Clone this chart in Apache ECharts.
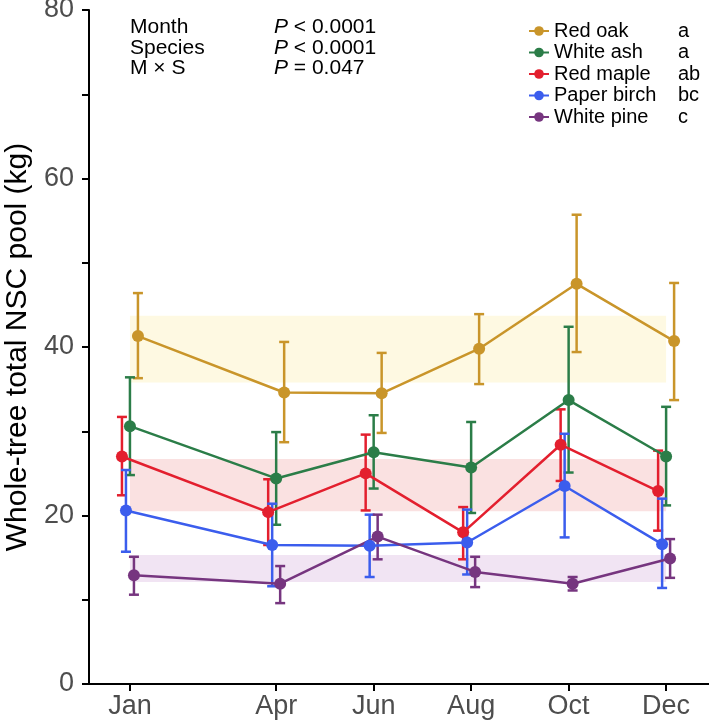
<!DOCTYPE html>
<html>
<head>
<meta charset="utf-8">
<script src="https://cdn.jsdelivr.net/npm/echarts@6/dist/echarts.min.js"></script>
<style>html,body{margin:0;padding:0;background:#fff}#c{width:709px;height:726px}</style>
</head>
<body>
<div id="c"></div>
<script>
// ---- data ----
var months = [1, 4, 6, 8, 10, 12];
var monthLabels = ['Jan', 'Apr', 'Jun', 'Aug', 'Oct', 'Dec'];
var species = ['Red oak', 'White ash', 'Red maple', 'Paper birch', 'White pine'];
var groupLetters = ['a', 'a', 'ab', 'bc', 'c'];

var redOakMean  = [41.3, 34.6, 34.5, 39.8, 47.5, 40.7];
var redOakLow   = [36.3, 28.7, 29.8, 35.6, 39.4, 33.7];
var redOakHigh  = [46.4, 40.6, 39.3, 43.9, 55.7, 47.6];

var whiteAshMean = [30.6, 24.4, 27.5, 25.7, 33.7, 27.0];
var whiteAshLow  = [24.8, 18.9, 23.2, 20.3, 25.1, 21.2];
var whiteAshHigh = [36.4, 29.9, 31.9, 31.1, 42.4, 32.9];

var redMapleMean = [27.0, 20.4, 25.0, 18.0, 28.4, 22.9];
var redMapleLow  = [22.4, 16.5, 20.6, 14.8, 24.1, 18.2];
var redMapleHigh = [31.7, 24.3, 29.6, 21.0, 32.6, 27.7];

var paperBirchMean = [20.6, 16.5, 16.4, 16.8, 23.5, 16.6];
var paperBirchLow  = [15.7, 11.6, 12.7, 13.0, 17.4, 11.4];
var paperBirchHigh = [25.4, 21.4, 20.1, 20.7, 29.7, 22.0];

var whitePineMean = [12.9, 11.9, 17.5, 13.3, 11.9, 14.9];
var whitePineLow  = [10.6, 9.6, 14.8, 11.5, 11.1, 12.6];
var whitePineHigh = [15.1, 14.0, 20.1, 15.1, 12.7, 17.2];

// group mean bands (red oak/white ash, red maple, white pine groups)
var bandLow  = [35.8, 20.5, 12.1];
var bandHigh = [43.7, 26.7, 15.3];

var yTicks = [0, 20, 40, 60, 80];

// ---- style ----
var colors = ['#c9952a', '#2b7d48', '#e31f2e', '#3b5ded', '#76357f'];
var bandColors = ['#fef9e2', '#fae1e1', '#f1e4f3'];
var dodge = [2, 0, -2, -1, 1];      // dodge slots for each species
var dodgeStep = 0.082;              // months per slot

var means = [redOakMean, whiteAshMean, redMapleMean, paperBirchMean, whitePineMean];
var lows  = [redOakLow, whiteAshLow, redMapleLow, paperBirchLow, whitePineLow];
var highs = [redOakHigh, whiteAshHigh, redMapleHigh, paperBirchHigh, whitePineHigh];

var font = 'Liberation Sans, Arial, Helvetica, sans-serif';

var series = [];
// bands
series.push({
  type: 'line', data: [], silent: true, z: 1,
  markArea: {
    silent: true,
    data: bandLow.map(function (lo, i) {
      return [{ xAxis: months[0], yAxis: lo, itemStyle: { color: bandColors[i] } },
              { xAxis: months[months.length - 1], yAxis: bandHigh[i] }];
    })
  }
});

species.forEach(function (name, s) {
  var off = dodge[s] * dodgeStep;
  series.push({
    type: 'custom',
    name: name + '_err',
    z: 3,
    silent: true,
    data: months.map(function (m, i) { return [m + off, lows[s][i], highs[s][i]]; }),
    encode: { x: 0, y: [1, 2] },
    renderItem: function (params, api) {
      var x = api.value(0);
      var lo = api.coord([x, api.value(1)]);
      var hi = api.coord([x, api.value(2)]);
      var w = 5;
      var st = { stroke: colors[s], lineWidth: 2.5 };
      return {
        type: 'group',
        children: [
          { type: 'line', shape: { x1: lo[0], y1: lo[1], x2: hi[0], y2: hi[1] }, style: st },
          { type: 'line', shape: { x1: hi[0] - w, y1: hi[1], x2: hi[0] + w, y2: hi[1] }, style: st },
          { type: 'line', shape: { x1: lo[0] - w, y1: lo[1], x2: lo[0] + w, y2: lo[1] }, style: st }
        ]
      };
    }
  });
  series.push({
    type: 'line',
    name: name,
    z: 4,
    data: months.map(function (m, i) { return [m + off, means[s][i]]; }),
    symbol: 'circle',
    symbolSize: 12,
    showSymbol: true,
    lineStyle: { color: colors[s], width: 2.5 },
    itemStyle: { color: colors[s] },
    emphasis: { disabled: true }
  });
});

var chart = echarts.init(document.getElementById('c'));
chart.setOption({
  animation: false,
  backgroundColor: '#fff',
  grid: { left: 89, right: 0, top: 10, bottom: 42, containLabel: false, outerBoundsMode: 'none' },
  xAxis: {
    type: 'value',
    min: 0.16,
    max: 12.88,
    splitLine: { show: false },
    axisLine: { show: true, onZero: false, lineStyle: { color: '#000', width: 2 } },
    axisTick: { show: true, length: 7, lineStyle: { color: '#000', width: 2 }, customValues: months },
    axisLabel: {
      customValues: months,
      formatter: function (v) { var i = months.indexOf(Math.round(v)); return i >= 0 ? monthLabels[i] : ''; },
      fontSize: 27, color: '#4d4d4d', fontFamily: font, margin: 9
    }
  },
  yAxis: {
    type: 'value',
    min: 0, max: 80, interval: 10,
    name: 'Whole-tree total NSC pool (kg)',
    nameLocation: 'middle',
    nameGap: 52,
    nameTextStyle: { fontSize: 30, color: '#000', fontFamily: font },
    splitLine: { show: false },
    axisLine: { show: true, lineStyle: { color: '#000', width: 2 } },
    axisTick: { show: true, length: 7, lineStyle: { color: '#000', width: 2 } },
    axisLabel: {
      formatter: function (v) { return yTicks.indexOf(v) >= 0 ? String(v) : ''; },
      fontSize: 27, color: '#4d4d4d', fontFamily: font, margin: 15
    }
  },
  legend: {
    orient: 'vertical',
    left: 523, top: 16,
    itemWidth: 20, itemHeight: 12,
    itemGap: 1.5,
    data: species,
    textStyle: {
      fontSize: 20, color: '#000', fontFamily: font,
      rich: { n: { fontSize: 20, lineHeight: 20, width: 124, fontFamily: font, color: '#000' }, l: { fontSize: 20, lineHeight: 20, fontFamily: font, color: '#000' } }
    },
    formatter: function (name) { return '{n|' + name + '}{l|' + groupLetters[species.indexOf(name)] + '}'; }
  },
  graphic: [
    {
      type: 'text', left: 130, top: 17,
      style: { text: 'Month\nSpecies\nM \u00d7 S', fontSize: 21, lineHeight: 20.5, fill: '#000', fontFamily: font }
    },
    {
      type: 'text', left: 274, top: 17,
      style: {
        text: '{i|P} < 0.0001\n{i|P} < 0.0001\n{i|P} = 0.047',
        fontSize: 21, lineHeight: 20.5, fill: '#000', fontFamily: font,
        rich: { i: { fontStyle: 'italic', fontSize: 21, lineHeight: 20.5, fontFamily: font } }
      }
    }
  ],
  series: series
});
</script>
</body>
</html>
